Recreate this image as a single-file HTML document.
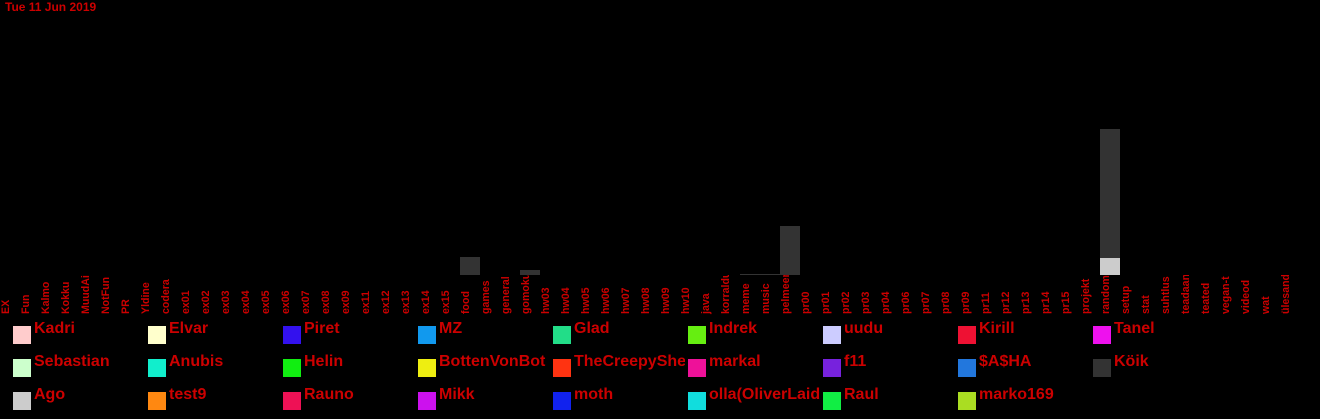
<!DOCTYPE html>
<html><head><meta charset="utf-8"><style>
html,body{margin:0;padding:0;background:#000;width:1320px;height:419px;overflow:hidden}
svg{display:block}
text{font-family:"Liberation Sans",sans-serif;font-weight:bold;fill:#c00}
</style></head><body>
<svg id="chart" width="1320" height="419">
<defs><clipPath id="lc"><rect x="0" y="275" width="1320" height="41"/></clipPath></defs>
<text x="5" y="11" font-size="12">Tue 11 Jun 2019</text>
<g id="bars"></g>
<g id="labels" clip-path="url(#lc)"></g>
<g id="legend"></g>
</svg>
<script>
const categories=["EX","Fun","Kalmo","Kokku","MuudAi","NotFun","PR","Yldine","codera","ex01","ex02","ex03","ex04","ex05","ex06","ex07","ex08","ex09","ex11","ex12","ex13","ex14","ex15","food","games","general","gomoku","hw03","hw04","hw05","hw06","hw07","hw08","hw09","hw10","java","korraldus","meme","music","pelmeen","pr00","pr01","pr02","pr03","pr04","pr06","pr07","pr08","pr09","pr11","pr12","pr13","pr14","pr15","projekt","random","setup","stat","suhtlus","teadaan","teated","vegan-t","videod","wat","ülesand"];
const seriesNames=["Kadri","Elvar","Piret","MZ","Glad","Indrek","uudu","Kirill","Tanel","Sebastian","Anubis","Helin","BottenVonBot","TheCreepySheep","markal","f11","$A$HA","Köik","Ago","test9","Rauno","Mikk","moth","olla(OliverLaidma)","Raul","marko169"];
const seriesColors=["#ffcccc","#ffffcc","#3311ee","#1199ee","#22dd88","#66ee11","#ccccff","#ee1133","#ee11ee","#ccffcc","#11eecc","#11ee11","#eeee11","#ff3311","#ee1199","#7722dd","#2277dd","#333333","#cccccc","#ff8811","#ee1155","#cc11ee","#1122ee","#11dddd","#11ee44","#aadd22"];
// stacked values (bottom first): Ago then Köik
const agoValues={"random":17};
const koikValues={"food":18,"gomoku":5,"meme":1,"music":1,"pelmeen":49,"random":129};
const yMax=146;
const NS="http://www.w3.org/2000/svg";
const baseY=275, plotH=146;
function xPos(i){return 20*i;}
function yLen(v){return v/yMax*plotH;}
const bars=document.getElementById('bars'),labels=document.getElementById('labels'),legend=document.getElementById('legend');
categories.forEach((c,i)=>{
  let y=baseY;
  [[agoValues,"Ago"],[koikValues,"Köik"]].forEach(([vals,name])=>{
    const v=vals[c]||0; if(!v) return;
    const h=yLen(v); y-=h;
    const r=document.createElementNS(NS,'rect');
    r.setAttribute('x',xPos(i));r.setAttribute('y',y);r.setAttribute('width',20);r.setAttribute('height',h);
    r.setAttribute('fill',seriesColors[seriesNames.indexOf(name)]);
    
    
    bars.appendChild(r);
  });
  const t=document.createElementNS(NS,'text');
  t.setAttribute('transform','translate('+(xPos(i)+9)+',314) rotate(-90)');
  t.setAttribute('font-size','10.6');
  t.textContent=c;
  
  
  labels.appendChild(t);
});
seriesNames.forEach((n,k)=>{
  const col=k%9,row=Math.floor(k/9);
  const x=13+135*col,y=326+33*row;
  const g=document.createElementNS(NS,'g');
  
  
  const r=document.createElementNS(NS,'rect');
  r.setAttribute('x',x);r.setAttribute('y',y);r.setAttribute('width',18);r.setAttribute('height',18);r.setAttribute('fill',seriesColors[k]);
  
  
  const t=document.createElementNS(NS,'text');
  t.setAttribute('x',x+21);t.setAttribute('y',y+7);t.setAttribute('font-size','16');
  t.textContent=n;
  
  
  const cp=document.createElementNS(NS,'svg');
  cp.setAttribute('x',0);cp.setAttribute('y',0);cp.setAttribute('width',x+132);cp.setAttribute('height',419);
  cp.appendChild(t);
  g.appendChild(r);g.appendChild(cp);
  legend.appendChild(g);
});
</script>
</body></html>
